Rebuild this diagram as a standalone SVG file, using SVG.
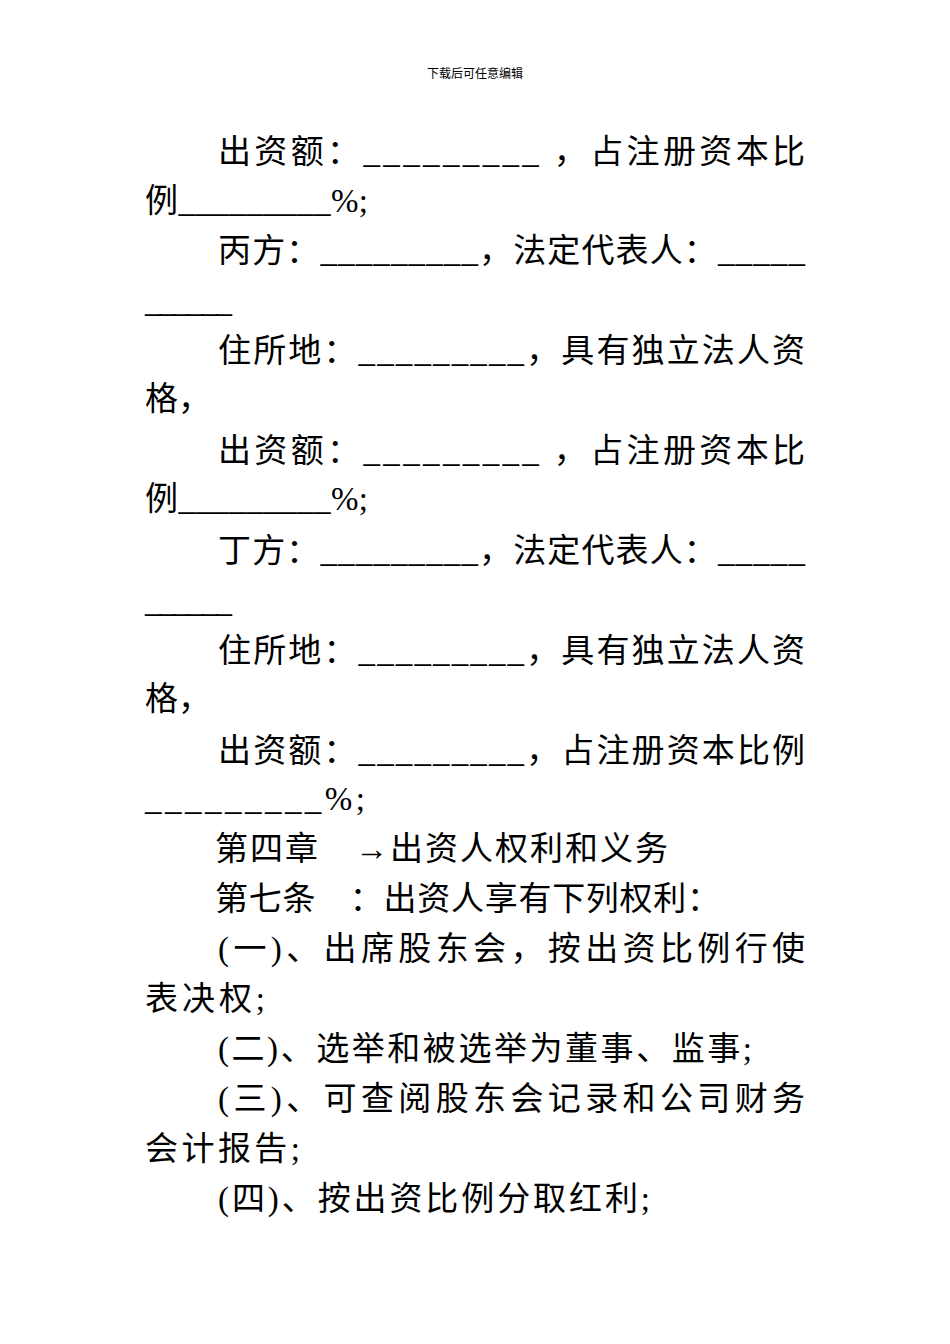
<svg xmlns="http://www.w3.org/2000/svg" width="950" height="1344" viewBox="0 0 950 1344">
<style>
text{font-family:"Liberation Serif","Noto Sans CJK SC",serif;font-size:33px;fill:#000}
.h{font-size:12px}
</style>
<rect width="950" height="1344" fill="#fff"/>
<text class="h" x="475" y="78" text-anchor="middle">下载后可任意编辑</text>
<g>
<text x="218" y="163" textLength="587" lengthAdjust="spacing">出资额：_________ ，占注册资本比</text>
<text x="145" y="212" textLength="223" lengthAdjust="spacing">例_________%;</text>
<text x="218" y="262" textLength="587" lengthAdjust="spacing">丙方：_________，法定代表人：_____</text>
<text x="145" y="312" textLength="87" lengthAdjust="spacing">______</text>
<text x="218" y="362" textLength="587" lengthAdjust="spacing">住所地：_________，具有独立法人资</text>
<text x="145" y="410">格，</text>
<text x="218" y="462" textLength="587" lengthAdjust="spacing">出资额：_________ ，占注册资本比</text>
<text x="145" y="510" textLength="223" lengthAdjust="spacing">例_________%;</text>
<text x="218" y="562" textLength="587" lengthAdjust="spacing">丁方：_________，法定代表人：_____</text>
<text x="145" y="612" textLength="87" lengthAdjust="spacing">______</text>
<text x="218" y="662" textLength="587" lengthAdjust="spacing">住所地：_________，具有独立法人资</text>
<text x="145" y="710">格，</text>
<text x="218" y="762" textLength="587" lengthAdjust="spacing">出资额：_________，占注册资本比例</text>
<text x="145" y="810" textLength="220" lengthAdjust="spacing">_________%;</text>
<text x="215" y="860" textLength="453" lengthAdjust="spacing">第四章　→出资人权利和义务</text>
<text x="215" y="910" textLength="505" lengthAdjust="spacing">第七条　：出资人享有下列权利：</text>
<text x="218" y="960" textLength="587" lengthAdjust="spacing">(一)、出席股东会，按出资比例行使</text>
<text x="145" y="1010" textLength="120" lengthAdjust="spacing">表决权;</text>
<text x="218" y="1060" textLength="534" lengthAdjust="spacing">(二)、选举和被选举为董事、监事;</text>
<text x="218" y="1110" textLength="587" lengthAdjust="spacing">(三)、可查阅股东会记录和公司财务</text>
<text x="145" y="1160" textLength="155" lengthAdjust="spacing">会计报告;</text>
<text x="218" y="1210" textLength="432" lengthAdjust="spacing">(四)、按出资比例分取红利;</text>
</g>
</svg>
